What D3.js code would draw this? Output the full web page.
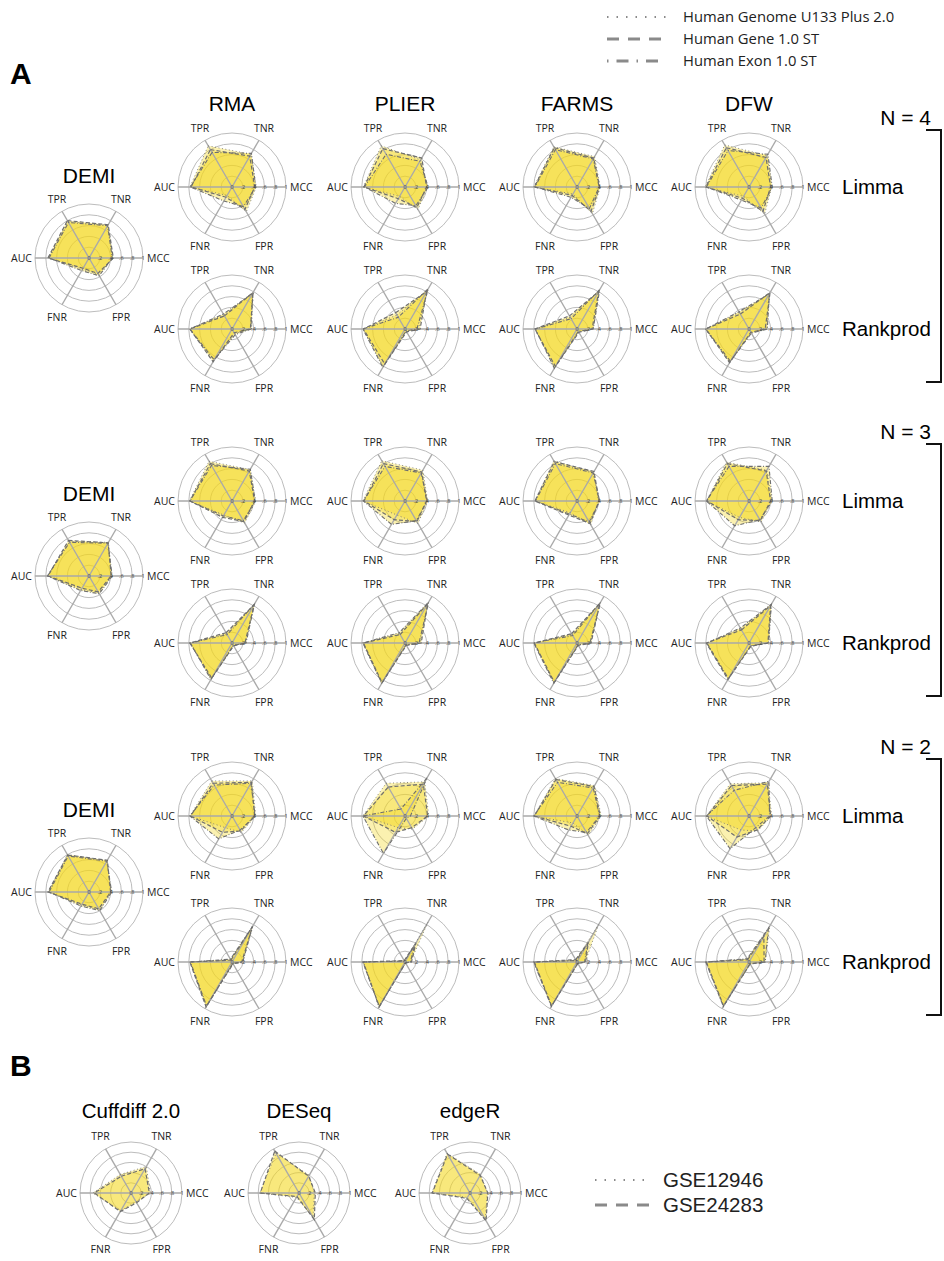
<!DOCTYPE html>
<html><head><meta charset="utf-8">
<script src="https://cdn.jsdelivr.net/npm/d3@7"></script>
<style>body{margin:0;background:#fff}svg{display:block}</style>
</head><body>
<svg id="chart" width="944" height="1261"></svg>
<script>
// ---------- data ----------
const axes = ["TPR","TNR","MCC","FPR","FNR","AUC"];
const tickValues = [0, 0.2, 0.4, 0.6, 0.8, 1];
const tickLabels = ["0", ".2", ".4", ".6", ".8", "1"];
const methods = ["RMA","PLIER","FARMS","DFW"];
const tests = ["Limma","Rankprod"];
const sampleSizes = ["N = 4","N = 3","N = 2"];
const platforms = ["Human Genome U133 Plus 2.0","Human Gene 1.0 ST","Human Exon 1.0 ST"];
const rnaMethods = ["Cuffdiff 2.0","DESeq","edgeR"];
const rnaDatasets = ["GSE12946","GSE24283"];

// values per axis order [TPR, TNR, MCC, FPR, FNR, AUC]; series = platforms
const demiN4 = [[0.78,0.70,0.44,0.36,0.24,0.75],[0.80,0.71,0.45,0.33,0.22,0.76],[0.76,0.69,0.43,0.38,0.27,0.74]];
const demiN3 = [[0.74,0.72,0.42,0.36,0.29,0.77],[0.76,0.71,0.41,0.34,0.26,0.76],[0.72,0.70,0.43,0.38,0.31,0.77]];
const demiN2 = [[0.80,0.67,0.41,0.38,0.28,0.75],[0.79,0.68,0.40,0.36,0.26,0.76],[0.77,0.66,0.42,0.40,0.30,0.74]];

const limmaN4 = [
  [[0.88,0.70,0.45,0.53,0.18,0.78],[0.80,0.66,0.42,0.48,0.22,0.76],[0.74,0.72,0.44,0.42,0.30,0.77]],
  [[0.88,0.58,0.42,0.48,0.20,0.77],[0.82,0.62,0.40,0.44,0.25,0.76],[0.70,0.55,0.43,0.40,0.35,0.75]],
  [[0.86,0.65,0.43,0.57,0.15,0.80],[0.84,0.62,0.42,0.52,0.18,0.79],[0.80,0.60,0.41,0.46,0.22,0.78]],
  [[0.90,0.67,0.42,0.58,0.20,0.81],[0.84,0.63,0.40,0.52,0.24,0.80],[0.78,0.70,0.43,0.45,0.28,0.79]]];
const rankprodN4 = [
  [[0.30,0.79,0.36,0.10,0.68,0.79],[0.28,0.78,0.34,0.08,0.70,0.78],[0.32,0.76,0.35,0.12,0.66,0.78]],
  [[0.30,0.85,0.25,0.05,0.80,0.78],[0.35,0.80,0.28,0.06,0.75,0.77],[0.25,0.86,0.22,0.04,0.82,0.78]],
  [[0.25,0.83,0.30,0.06,0.83,0.78],[0.28,0.80,0.28,0.07,0.80,0.78],[0.22,0.84,0.30,0.05,0.84,0.77]],
  [[0.35,0.77,0.33,0.08,0.71,0.81],[0.32,0.78,0.30,0.07,0.72,0.80],[0.37,0.75,0.34,0.09,0.69,0.80]]];
const limmaN3 = [
  [[0.85,0.67,0.44,0.47,0.30,0.79],[0.80,0.64,0.42,0.44,0.35,0.78],[0.76,0.68,0.43,0.42,0.32,0.78]],
  [[0.86,0.66,0.42,0.48,0.30,0.78],[0.80,0.62,0.40,0.44,0.40,0.76],[0.74,0.60,0.41,0.42,0.50,0.77]],
  [[0.86,0.61,0.40,0.51,0.25,0.78],[0.84,0.63,0.41,0.48,0.30,0.78],[0.80,0.60,0.42,0.45,0.28,0.77]],
  [[0.83,0.66,0.42,0.45,0.35,0.79],[0.80,0.64,0.40,0.42,0.40,0.78],[0.74,0.74,0.43,0.40,0.53,0.79]]];
const rankprodN3 = [
  [[0.20,0.84,0.25,0.05,0.77,0.78],[0.22,0.82,0.24,0.06,0.75,0.78],[0.18,0.83,0.26,0.05,0.78,0.77]],
  [[0.20,0.86,0.28,0.04,0.87,0.78],[0.18,0.84,0.30,0.05,0.85,0.77],[0.22,0.87,0.26,0.04,0.86,0.78]],
  [[0.18,0.87,0.25,0.04,0.85,0.80],[0.20,0.85,0.26,0.05,0.84,0.79],[0.16,0.86,0.24,0.04,0.86,0.80]],
  [[0.30,0.82,0.37,0.06,0.77,0.79],[0.28,0.80,0.35,0.07,0.78,0.79],[0.32,0.83,0.36,0.06,0.76,0.78]]];
const limmaN2 = [
  [[0.75,0.75,0.44,0.35,0.25,0.78],[0.70,0.72,0.42,0.32,0.35,0.77],[0.66,0.70,0.43,0.30,0.49,0.78]],
  [[0.70,0.73,0.44,0.28,0.25,0.78],[0.62,0.68,0.42,0.25,0.35,0.77],[0.15,0.82,0.10,0.05,0.80,0.78]],
  [[0.80,0.65,0.45,0.41,0.15,0.80],[0.78,0.63,0.43,0.38,0.22,0.79],[0.72,0.60,0.42,0.35,0.30,0.80]],
  [[0.69,0.71,0.42,0.32,0.30,0.79],[0.65,0.68,0.40,0.30,0.45,0.78],[0.55,0.74,0.38,0.25,0.70,0.79]]];
const rankprodN2 = [
  [[0.05,0.78,0.20,0.03,0.95,0.78],[0.04,0.76,0.18,0.03,0.96,0.78],[0.06,0.75,0.20,0.04,0.94,0.77]],
  [[0.02,0.85,0.10,0.02,0.96,0.78],[0.03,0.40,0.12,0.02,0.95,0.78],[0.02,0.35,0.10,0.02,0.96,0.77]],
  [[0.04,0.80,0.15,0.03,0.95,0.80],[0.05,0.42,0.16,0.03,0.94,0.79],[0.03,0.40,0.14,0.03,0.95,0.80]],
  [[0.06,0.77,0.30,0.04,0.95,0.80],[0.05,0.55,0.28,0.04,0.94,0.79],[0.07,0.72,0.30,0.04,0.95,0.80]]];

const cuffdiff = [[0.42,0.60,0.38,0.20,0.40,0.75],[0.38,0.55,0.36,0.22,0.42,0.72]];
const deseq    = [[0.90,0.40,0.30,0.55,0.10,0.77],[0.95,0.38,0.32,0.60,0.08,0.76]];
const edger    = [[0.90,0.42,0.34,0.60,0.10,0.75],[0.88,0.40,0.35,0.63,0.12,0.74]];

// ---------- drawing ----------
const svg = d3.select("#chart");
const sans = "'Liberation Sans', Arial, sans-serif";
const small = "'Open Sans', 'Noto Sans', sans-serif";
const dashStyles = ["0.9,2.6", "4,2.2", "0.9,1.8,4,1.8"];
const lineWidths = [0.9, 1.2, 1.1];
const angle = d3.scalePoint().domain(axes).range([-Math.PI/6, -Math.PI/6 + 2*Math.PI*5/6]);

function radar(cx, cy, R, series, styleIdx) {
  const g = svg.append("g").attr("transform", `translate(${cx},${cy})`);
  const r = d3.scaleLinear().domain([0,1]).range([0,R]);
  g.selectAll("circle.ring").data(tickValues.slice(1)).join("circle")
    .attr("r", d => r(d)).attr("fill","none").attr("stroke","#b4b4b4").attr("stroke-width",0.9);
  const line = d3.lineRadial().angle((d,i) => angle(axes[i])).radius(d => r(d)).curve(d3.curveLinearClosed);
  g.selectAll("path.fill").data(series).join("path")
    .attr("d", d => line(d)).attr("fill","#f3d61c").attr("fill-opacity",0.35).attr("stroke","none");
  g.selectAll("line.spoke").data(axes).join("line")
    .attr("x1",0).attr("y1",0)
    .attr("x2", d => r(1)*Math.sin(angle(d))).attr("y2", d => -r(1)*Math.cos(angle(d)))
    .attr("stroke","#a9a9a9").attr("stroke-width",1.4);
  g.selectAll("path.outline").data(series).join("path")
    .attr("d", d => line(d)).attr("fill","none")
    .attr("stroke","#6e6e6e")
    .attr("stroke-width",(d,i) => lineWidths[styleIdx[i]])
    .attr("stroke-dasharray",(d,i) => dashStyles[styleIdx[i]]);
  g.selectAll("text.tick").data(tickValues).join("text")
    .attr("x", d => r(d)).attr("y", 0).attr("dy","0.35em")
    .attr("text-anchor","middle").attr("font-family",small).attr("font-size",5.5).attr("fill","#444")
    .text((d,i) => tickLabels[i]);
  const lab = g.selectAll("text.ax").data(axes).join("text")
    .attr("font-family",small).attr("font-size",10.5).attr("fill","#222")
    .attr("dy","0.35em").text(d => d);
  lab.each(function(d){
    const a = angle(d), t = d3.select(this);
    if (d === "MCC") t.attr("x", R + 4).attr("y", 0).attr("text-anchor","start");
    else if (d === "AUC") t.attr("x", -R - 3).attr("y", 0).attr("text-anchor","end");
    else t.attr("x", (R + 10)*Math.sin(a)).attr("y", -(R + 12)*Math.cos(a)*1.03).attr("text-anchor","middle");
  });
}

const colX = [232, 405, 577, 749];
const blockY = [[187, 329], [501, 643], [816, 962]];
const demiY = [258, 576, 892];
const limmaData = [limmaN4, limmaN3, limmaN2];
const rankData = [rankprodN4, rankprodN3, rankprodN2];
const demiData = [demiN4, demiN3, demiN2];
const R = 54;

svg.append("text").attr("x",10).attr("y",84).attr("font-family",sans).attr("font-weight","bold").attr("font-size",30).text("A");
svg.append("text").attr("x",10).attr("y",1076).attr("font-family",sans).attr("font-weight","bold").attr("font-size",30).text("B");

methods.forEach((m,i) => svg.append("text").attr("x",colX[i]).attr("y",111).attr("text-anchor","middle")
  .attr("font-family",sans).attr("font-size",21).text(m));

sampleSizes.forEach((n,b) => {
  radar(89, demiY[b], R, demiData[b], [0,1,2]);
  svg.append("text").attr("x",89).attr("y",demiY[b]-75).attr("text-anchor","middle")
    .attr("font-family",sans).attr("font-size",21).text("DEMI");
  methods.forEach((m,i) => {
    radar(colX[i], blockY[b][0], R, limmaData[b][i], [0,1,2]);
    radar(colX[i], blockY[b][1], R, rankData[b][i], [0,1,2]);
  });
  tests.forEach((t,k) => svg.append("text").attr("x",842).attr("y",blockY[b][k]+7)
    .attr("font-family",sans).attr("font-size",20.5).text(t));
  const top = blockY[b][0] - 57, bot = blockY[b][1] + 53;
  svg.append("text").attr("x",931).attr("y",top - 5).attr("text-anchor","end")
    .attr("font-family",sans).attr("font-size",21).text(n);
  svg.append("path").attr("d",`M926,${top}H941V${bot}H926`).attr("fill","none").attr("stroke","#111").attr("stroke-width",2);
});

const legDash = ["1.5,8", "12,9", "1.5,8,12,8"];
platforms.forEach((p,i) => {
  const y = 17 + i*22;
  svg.append("line").attr("x1",607).attr("x2",666).attr("y1",y).attr("y2",y)
    .attr("stroke","#8a8a8a").attr("stroke-width",i===0?1.8:2.8).attr("stroke-dasharray",legDash[i]);
  svg.append("text").attr("x",683).attr("y",y).attr("dy","0.35em").attr("font-family",small)
    .attr("font-size",14.8).attr("fill","#222").text(p);
});

const bX = [131, 299, 470];
const bData = [cuffdiff, deseq, edger];
rnaMethods.forEach((m,i) => {
  svg.append("text").attr("x",bX[i]).attr("y",1118).attr("text-anchor","middle")
    .attr("font-family",sans).attr("font-size",20.5).text(m);
  radar(bX[i], 1193, 51, bData[i], [0,1]);
});
rnaDatasets.forEach((d,i) => {
  const y = 1180 + i*25;
  svg.append("line").attr("x1",595).attr("x2",651).attr("y1",y).attr("y2",y)
    .attr("stroke","#8a8a8a").attr("stroke-width",i===0?1.8:2.8).attr("stroke-dasharray",legDash[i]);
  svg.append("text").attr("x",663).attr("y",y).attr("dy","0.35em").attr("font-family",sans)
    .attr("font-size",20.5).attr("fill","#222").text(d);
});
</script>
</body></html>
